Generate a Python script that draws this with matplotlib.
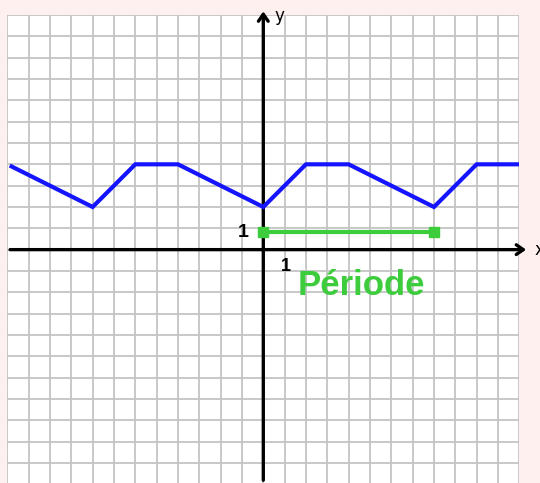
import numpy as np
import matplotlib.pyplot as plt

# periodic function, period 8
x_pts = [-11.8, -8, -6, -4, 0, 2, 4, 8, 10, 12]
y_pts = [3.9, 2, 4, 4, 2, 4, 4, 2, 4, 4]

# period marker
period_x = [0, 8]
period_y = [0.85, 0.85]
period_label = "Période"

x_min, x_max = -12, 12
y_min, y_max = -10.94, 11

fig = plt.figure(figsize=(5.4, 4.83), dpi=100)
fig.patch.set_facecolor('#fdf0ef')
ax = fig.add_axes([7.3 / 540, 0, 512 / 540, 468 / 483])
ax.set_facecolor('white')
ax.set_xlim(x_min, x_max)
ax.set_ylim(y_min, y_max)

# grid
for gx in range(x_min, x_max + 1):
    ax.axvline(gx, color='#c4c4c4', lw=1.3, zorder=1)
for gy in range(-11, 12):
    ax.axhline(gy, color='#c4c4c4', lw=1.3, zorder=1)

for s in ax.spines.values():
    s.set_visible(False)
ax.set_xticks([])
ax.set_yticks([])

# axes with arrows
ax.annotate('', xy=(12.45, 0), xytext=(x_min, 0),
            arrowprops=dict(arrowstyle='->,head_length=0.5,head_width=0.35', color='black', lw=2.4),
            annotation_clip=False, zorder=3)
ax.annotate('', xy=(0, 11.3), xytext=(0, y_min),
            arrowprops=dict(arrowstyle='->,head_length=0.5,head_width=0.35', color='black', lw=2.4),
            annotation_clip=False, zorder=3)
ax.text(12.7, 0, 'x', fontsize=12, va='center', ha='left', clip_on=False)
ax.text(0.75, 10.95, 'y', fontsize=12, va='center', ha='center', clip_on=False)

# function
ax.plot(x_pts, y_pts, color='#1414ff', lw=3, solid_joinstyle='miter', zorder=4)

# period
ax.plot(period_x, period_y, color='#3ccc3c', lw=3, marker='s', ms=7, zorder=4)
ax.text(1.62, -2.13, period_label, color='#3ccc3c', fontsize=25, fontweight='bold',
        family='Liberation Sans', ha='left', va='baseline', zorder=5)

ax.text(-0.95, 0.82, '1', fontsize=14, fontweight='bold', family='Liberation Sans',
        ha='center', va='center', zorder=5)
ax.text(1.05, -0.8, '1', fontsize=13, fontweight='bold', family='Liberation Sans',
        ha='center', va='center', zorder=5)

fig.savefig('out.png', dpi=100, facecolor=fig.get_facecolor())
